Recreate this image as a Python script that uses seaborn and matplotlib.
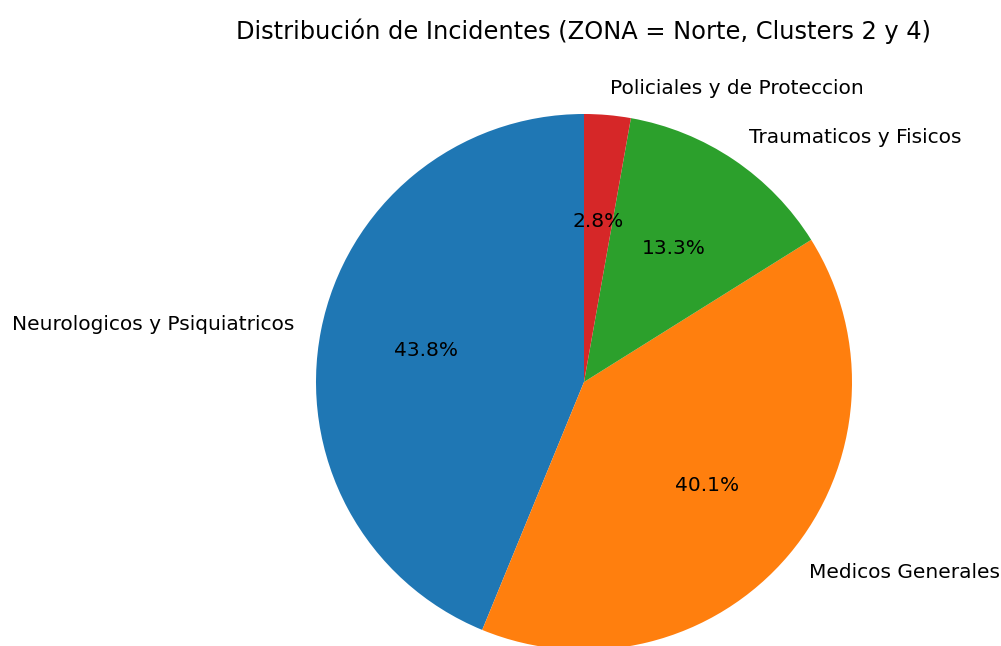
import matplotlib
matplotlib.use("Agg")
import matplotlib.pyplot as plt
import seaborn as sns

categorias = ['Neurologicos y Psiquiatricos', 'Medicos Generales',
              'Traumaticos y Fisicos', 'Policiales y de Proteccion']
porcentajes = [43.8, 40.1, 13.3, 2.8]

sns.set_theme(style='white')
plt.rcParams['font.family'] = ['DejaVu Sans']
colores = sns.color_palette('tab10', 4)

fig = plt.figure(figsize=(10.01, 6.46), dpi=100)
ax = fig.add_axes([249 / 1001, -71 / 646, 670 / 1001, 670 / 646])
ax.pie(porcentajes, labels=categorias, colors=colores, autopct='%1.1f%%',
       startangle=90, wedgeprops={'edgecolor': 'none', 'linewidth': 0},
       textprops={'fontsize': 14.5, 'color': 'black'})
ax.set_xlim(-1.25, 1.25)
ax.set_ylim(-1.25, 1.25)
ax.set_aspect('equal')
ax.set_title('Distribución de Incidentes (ZONA = Norte, Clusters 2 y 4)',
             fontsize=17.4, pad=6, color='black')
fig.savefig('out.png', dpi=100)
